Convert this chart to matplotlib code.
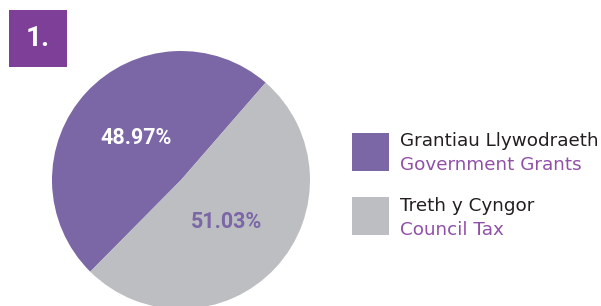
import matplotlib
matplotlib.use("Agg")
from matplotlib import pyplot as plt
from matplotlib.patches import Rectangle

# data
cymraeg = ["Grantiau Llywodraeth", "Treth y Cyngor"]
english = ["Government Grants", "Council Tax"]
canran = [48.97, 51.03]
lliwiau = ["#7B66A6", "#BDBEC1"]
lliw_pct = ["white", "#7B66A6"]

plt.rcParams["font.family"] = ["Roboto", "DejaVu Sans"]

W, H = 601, 306
fig = plt.figure(figsize=(W / 100, H / 100), dpi=100)
ax = fig.add_axes([0, 0, 1, 1])

# pie (pixel coordinates, y up)
wedges, texts, autotexts = ax.pie(canran, colors=lliwiau, startangle=49,
                                  center=(181, H - 180), radius=129,
                                  autopct="%.2f%%", pctdistance=0.48,
                                  wedgeprops=dict(linewidth=0))
for t, c in zip(autotexts, lliw_pct):
    t.set_color(c)
    t.set_fontsize(15.5)
    t.set_fontweight("bold")

# number box
ax.add_patch(Rectangle((9, H - 67), 58, 57, color="#7D3F98", lw=0))
ax.text(38, H - 39, "1.", color="white", fontsize=20, fontweight="bold",
        ha="center", va="center")

# legend
for i, (cy, en, col) in enumerate(zip(cymraeg, english, lliwiau)):
    top = 133 + i * 64
    ax.add_patch(Rectangle((352, H - top - 38), 37, 38, color=col, lw=0))
    ax.text(400, H - top - 13 - i, cy, color="#231F20", fontsize=13.2,
            family="DejaVu Sans", va="baseline")
    ax.text(400, H - top - 37 - i, en, color="#9150A8", fontsize=13.2,
            family="DejaVu Sans", va="baseline")

ax.set_xlim(0, W)
ax.set_ylim(0, H)
ax.set_aspect("equal")
ax.axis("off")
fig.savefig("out.png", dpi=100)
